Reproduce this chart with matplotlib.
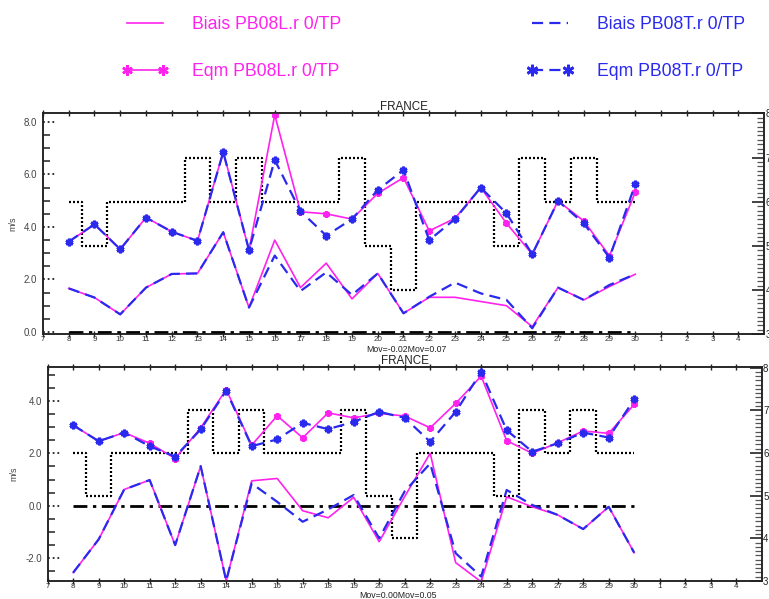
import matplotlib
matplotlib.use("Agg")
import matplotlib.pyplot as plt
from matplotlib.ticker import MultipleLocator, FixedLocator

plt.rcParams['font.family'] = ['Liberation Sans', 'DejaVu Sans']

# ---- shared axis data ----
days = list(range(8, 31))
xtick_pos = list(range(7, 35))
xtick_labels = [str(d) for d in range(7, 31)] + ['1', '2', '3', '4']
steps = [6, 5, 6, 6, 6, 7, 6, 7, 6, 6, 6, 7, 5, 4, 6, 6, 6, 5, 7, 6, 7, 6, 6]

# ---- upper panel ----
top_eqm_L = [3.44, 4.10, 3.15, 4.36, 3.82, 3.47, 6.87, 3.12, 8.27, 4.58, 4.50, 4.30,
             5.28, 5.88, 3.85, 4.33, 5.50, 4.14, 2.96, 4.99, 4.23, 2.90, 5.32]
top_eqm_T = [3.44, 4.10, 3.15, 4.36, 3.82, 3.47, 6.85, 3.12, 6.55, 4.60, 3.67, 4.30,
             5.41, 6.17, 3.50, 4.30, 5.50, 4.52, 2.96, 4.99, 4.14, 2.83, 5.63]
top_biais_L = [1.66, 1.31, 0.67, 1.69, 2.21, 2.23, 3.80, 0.93, 3.50, 1.69, 2.62, 1.26,
               2.23, 0.71, 1.32, 1.32, 1.16, 1.00, 0.20, 1.69, 1.22, 1.73, 2.20]
top_biais_T = [1.66, 1.31, 0.67, 1.69, 2.21, 2.23, 3.80, 0.93, 2.91, 1.56, 2.27, 1.41,
               2.23, 0.71, 1.34, 1.88, 1.47, 1.22, 0.14, 1.69, 1.22, 1.79, 2.20]
top_mov = "Mov=-0.02Mov=0.07"

# ---- lower panel ----
bot_eqm_L = [3.07, 2.46, 2.79, 2.38, 1.80, 2.97, 4.43, 2.31, 3.43, 2.59, 3.54, 3.35,
             3.52, 3.42, 2.97, 3.90, 4.94, 2.48, 2.00, 2.40, 2.85, 2.76, 3.86]
bot_eqm_T = [3.07, 2.46, 2.79, 2.27, 1.87, 2.91, 4.38, 2.27, 2.53, 3.16, 2.92, 3.20,
             3.58, 3.35, 2.44, 3.58, 5.10, 2.88, 2.06, 2.38, 2.79, 2.60, 4.05]
bot_biais_L = [-2.55, -1.28, 0.62, 0.98, -1.50, 1.51, -2.86, 0.95, 1.04, -0.19, -0.46, 0.32,
               -1.37, 0.35, 2.00, -2.17, -2.90, 0.34, -0.04, -0.35, -0.89, -0.04, -1.79]
bot_biais_T = [-2.55, -1.28, 0.62, 0.98, -1.50, 1.51, -2.86, 0.85, 0.15, -0.61, -0.14, 0.41,
               -1.24, 0.55, 1.61, -1.81, -2.70, 0.60, 0.03, -0.35, -0.89, -0.04, -1.79]
bot_mov = "Mov=0.00Mov=0.05"

MAG = '#FF22EE'
BLUE = '#2A2AEE'
INK = '#222222'
GREY = '#444444'

fig = plt.figure(figsize=(7.69, 5.99), dpi=100)


def panel(rect, ylim, rlim, eqm_L, eqm_T, biais_L, biais_T, mov, mov_xy):
    ax = fig.add_axes(rect)
    ax.set_xlim(7, 35)
    ax.set_ylim(*ylim)

    # right-hand scale with the stepped reference curve
    axr = ax.twinx()
    axr.set_ylim(*rlim)
    axr.plot(days, steps, drawstyle='steps-mid', color='black', lw=1.6,
             ls=(0, (0.9, 0.9)), dash_capstyle='butt')
    axr.yaxis.set_major_locator(MultipleLocator(1))
    axr.yaxis.set_minor_locator(MultipleLocator(0.1))
    axr.tick_params(axis='y', which='major', direction='in', length=9, width=1.2,
                    color=INK, labelsize=7, pad=1, labelcolor=INK)
    axr.tick_params(axis='y', which='minor', direction='in', length=5, width=0.9,
                    color='#555555')
    axr.set_zorder(1)
    ax.set_zorder(2)
    ax.patch.set_visible(False)

    ax.hlines(0, days[0], days[-1], color='black', lw=2.0,
              linestyles=[(0, (5, 2, 1.2, 2))])

    lbl, = ax.plot(days, biais_L, color=MAG, lw=1.2, label='Biais PB08L.r 0/TP')
    ltb, = ax.plot(days, biais_T, color=BLUE, lw=1.6, dashes=(5, 2.8),
                   label='Biais PB08T.r 0/TP')
    lel, = ax.plot(days, eqm_L, color=MAG, lw=1.2, marker=(6, 2, 0), ms=5, mew=1.8,
                   label='Eqm PB08L.r 0/TP')
    let, = ax.plot(days, eqm_T, color=BLUE, lw=1.6, dashes=(5, 2.8), marker=(6, 2, 0),
                   ms=5.5, mew=2.0, label='Eqm PB08T.r 0/TP')

    ax.xaxis.set_major_locator(FixedLocator(xtick_pos))
    ax.set_xticklabels(xtick_labels)
    ax.tick_params(axis='x', which='major', direction='inout', length=5, width=1.0,
                   color=INK, labelsize=5.8, pad=-1, labelcolor='#333333', top=True)

    ax.yaxis.set_major_locator(MultipleLocator(2))
    ax.yaxis.set_minor_locator(MultipleLocator(0.5))
    ax.yaxis.set_major_formatter(lambda v, p: f"{v:.1f}")
    ax.tick_params(axis='y', which='major', length=0, labelsize=7, pad=4,
                   labelcolor=GREY)
    ax.tick_params(axis='y', which='minor', direction='in', length=5, width=1.1,
                   color=INK)
    yt = ax.get_yaxis_transform()
    lo, hi = ax.get_ylim()
    for v in ax.get_yticks():
        if lo <= v <= hi:
            ax.plot([0.0, 0.018], [v, v], transform=yt, color=INK, lw=1.3,
                    ls=(0, (1, 1.6)), clip_on=False)

    for sp in list(ax.spines.values()) + list(axr.spines.values()):
        sp.set_color(INK)
        sp.set_linewidth(1.1)

    ax.set_ylabel('m/s', fontsize=6.5, color=GREY, labelpad=5)
    ax.set_title('FRANCE', fontsize=8.4, color=INK, pad=0.5)
    fig.text(mov_xy[0], mov_xy[1], mov, fontsize=6.3, color=INK, ha='center', va='center')
    return lbl, ltb, lel, let


h = panel([0.0559, 0.4419, 0.9376, 0.3689], (-0.09, 8.33), (3.0, 8.0),
          top_eqm_L, top_eqm_T, top_biais_L, top_biais_T, top_mov,
          (406 / 769, 1 - 349.5 / 599))
panel([0.0620, 0.0300, 0.9285, 0.3578], (-2.87, 5.30), (3.0, 8.02),
      bot_eqm_L, bot_eqm_T, bot_biais_L, bot_biais_T, bot_mov,
      (398 / 769, 1 - 595.5 / 599))

leg_kw = dict(frameon=False, fontsize=12.7, handlelength=2.6, handletextpad=1.35,
              labelspacing=1.72, borderpad=0, borderaxespad=0, numpoints=2,
              markerscale=1.5, loc='upper left', labelcolor='linecolor')
fig.legend([h[0], h[2]], [h[0].get_label(), h[2].get_label()],
           bbox_to_anchor=(122 / 769, 1 - 16 / 599), **leg_kw)
fig.legend([h[1], h[3]], [h[1].get_label(), h[3].get_label()],
           bbox_to_anchor=(527 / 769, 1 - 16 / 599), **leg_kw)

fig.savefig('out.png', dpi=100)
